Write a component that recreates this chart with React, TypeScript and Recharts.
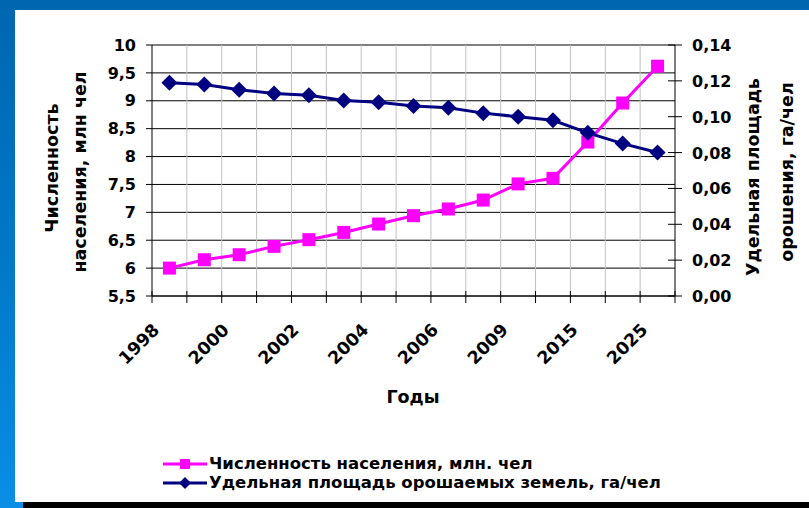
import React from "react";
import {
  LineChart,
  Line,
  XAxis,
  YAxis,
  CartesianGrid,
  Legend,
  Label,
} from "recharts";

// годы (подписи показываются через одну)
const years = [
  "1998", "1999", "2000", "2001", "2002", "2003", "2004", "2005",
  "2006", "2007", "2009", "2010", "2015", "2020", "2025",
];
const shownYears = ["1998", "2000", "2002", "2004", "2006", "2009", "2015", "2025"];

// численность населения, млн чел
const population = [6.0, 6.15, 6.24, 6.39, 6.51, 6.64, 6.79, 6.94, 7.06, 7.22, 7.51, 7.61, 8.26, 8.96, 9.62];
// удельная площадь орошаемых земель, га/чел
const irrigation = [0.119, 0.118, 0.115, 0.113, 0.112, 0.109, 0.108, 0.106, 0.105, 0.102, 0.1, 0.098, 0.091, 0.085, 0.08];

const leftTicks = [5.5, 6, 6.5, 7, 7.5, 8, 8.5, 9, 9.5, 10];
const rightTicks = [0, 0.02, 0.04, 0.06, 0.08, 0.1, 0.12, 0.14];

const popName = "Численность населения, млн. чел";
const irrName = "Удельная площадь орошаемых земель, га/чел";

const W = 809;
const H = 508;
const FONT = "'DejaVu Sans', sans-serif";
const PINK = "#ff00ff";
const NAVY = "#000080";
const margin = { top: 45, right: 74, bottom: 152, left: 92 };
const AXIS_W = 60;
const PLOT_W = W - margin.left - margin.right - 2 * AXIS_W;

const data = years.map((y, i) => ({
  year: y,
  pop: population[i],
  irr: irrigation[i],
}));

function Square(props: any) {
  const { cx, cy } = props;
  if (cx == null || cy == null) return null;
  return <rect x={cx - 6.5} y={cy - 6.5} width={13} height={13} fill={PINK} />;
}

function Diamond(props: any) {
  const { cx, cy } = props;
  if (cx == null || cy == null) return null;
  const r = 8;
  return (
    <polygon
      points={`${cx},${cy - r} ${cx + r},${cy} ${cx},${cy + r} ${cx - r},${cy}`}
      fill={NAVY}
    />
  );
}

function XTick(props: any) {
  const { x, y, payload, index } = props;
  const bw = PLOT_W / years.length;
  const tx = x - 9;
  const ty = y + 35;
  return (
    <g>
      <line x1={x - bw / 2} x2={x - bw / 2} y1={y - 5} y2={y + 7} stroke="#000" />
      {index === years.length - 1 && (
        <line x1={x + bw / 2} x2={x + bw / 2} y1={y - 5} y2={y + 7} stroke="#000" />
      )}
      {shownYears.includes(payload.value) && (
        <text
          x={tx}
          y={ty}
          transform={`rotate(-45 ${tx} ${ty})`}
          textAnchor="end"
          fontSize={17.5}
          fontWeight={700}
          fontFamily={FONT}
          fill="#000"
        >
          {payload.value}
        </text>
      )}
    </g>
  );
}

function RightTick(props: any) {
  const { x, y, payload } = props;
  return (
    <g>
      <line x1={x - 7} x2={x + 7} y1={y} y2={y} stroke="#000" />
      <text
        x={x + 17}
        y={y}
        dy={6}
        textAnchor="start"
        fontSize={16}
        fontWeight={700}
        fontFamily={FONT}
        fill="#000"
      >
        {payload.value.toFixed(2).replace(".", ",")}
      </text>
    </g>
  );
}

function LegendBox() {
  const row = (color: string, label: string, marker: "sq" | "dm") => (
    <div style={{ display: "flex", alignItems: "center", height: 19 }}>
      <svg width={46} height={19}>
        <line x1={0} x2={44} y1={10} y2={10} stroke={color} strokeWidth={3} />
        {marker === "sq" ? (
          <rect x={17} y={5} width={10} height={10} fill={color} />
        ) : (
          <polygon points="22,4 28,10 22,16 16,10" fill={color} />
        )}
      </svg>
      <span
        style={{
          fontFamily: FONT,
          fontWeight: 700,
          fontSize: 16.5,
          color: "#000",
          whiteSpace: "nowrap",
        }}
      >
        {label}
      </span>
    </div>
  );
  return (
    <div>
      {row(PINK, popName, "sq")}
      {row(NAVY, irrName, "dm")}
    </div>
  );
}

function LeftTitle() {
  return (
    <g fontFamily={FONT} fontWeight={700} fontSize={17.5} fill="#000">
      <text x={58} y={168} textAnchor="middle" transform="rotate(-90 58 168)">
        Численность
      </text>
      <text x={86} y={172} textAnchor="middle" transform="rotate(-90 86 172)">
        населения, млн чел
      </text>
    </g>
  );
}

function RightTitle() {
  return (
    <g fontFamily={FONT} fontWeight={700} fontSize={17.5} fill="#000">
      <text x={759} y={177} textAnchor="middle" transform="rotate(-90 759 177)">
        Удельная площадь
      </text>
      <text x={793} y={172} textAnchor="middle" transform="rotate(-90 793 172)">
        орошения, га/чел
      </text>
    </g>
  );
}

export default function App() {
  return (
    <div
      style={{
        position: "absolute",
        left: 0,
        top: 0,
        width: W,
        height: H,
        background: "linear-gradient(180deg, #0066b0 0%, #0078c8 50%, #0a8ee6 100%)",
        overflow: "hidden",
      }}
    >
      <div
        style={{
          position: "absolute",
          left: 15,
          top: 10,
          width: W - 15,
          height: 492,
          background: "#fff",
        }}
      />
      <div
        style={{
          position: "absolute",
          left: 23,
          top: 502,
          width: W - 23,
          height: 6,
          background: "#000",
        }}
      />
      <div style={{ position: "absolute", left: 0, top: 0 }}>
        <LineChart width={W} height={H} data={data} margin={margin}>
          <CartesianGrid
            yAxisId="left"
            vertical={false}
            stroke="#000"
            strokeWidth={1}
          />
          <CartesianGrid
            yAxisId="left"
            horizontal={false}
            stroke="#c0c0c0"
            strokeWidth={1}
            verticalCoordinatesGenerator={(p: any) => {
              const left = p?.offset?.left ?? margin.left + AXIS_W;
              const width = p?.offset?.width ?? PLOT_W;
              const bw = width / years.length;
              return years.slice(1).map((_, i) => left + bw * (i + 1));
            }}
          />
          <XAxis
            dataKey="year"
            scale="band"
            interval={0}
            tickLine={false}
            tickSize={0}
            tickMargin={0}
            height={60}
            axisLine={{ stroke: "#000" }}
            tick={<XTick />}
          >
            <Label
              content={() => (
                <text
                  x={413}
                  y={403}
                  textAnchor="middle"
                  fontFamily={FONT}
                  fontWeight={700}
                  fontSize={17.5}
                  fill="#000"
                >
                  Годы
                </text>
              )}
            />
          </XAxis>
          <YAxis
            yAxisId="left"
            width={AXIS_W}
            domain={[5.5, 10]}
            ticks={leftTicks}
            allowDataOverflow
            tickSize={6}
            tickMargin={10}
            axisLine={{ stroke: "#000" }}
            tickLine={{ stroke: "#000" }}
            tickFormatter={(v: number) => String(v).replace(".", ",")}
            tick={{ fontSize: 16, fontWeight: 700, fill: "#000", fontFamily: FONT }}
          >
            <Label content={() => <LeftTitle />} />
          </YAxis>
          <YAxis
            yAxisId="right"
            orientation="right"
            width={AXIS_W}
            domain={[0, 0.14]}
            ticks={rightTicks}
            allowDataOverflow
            tickLine={false}
            tickSize={0}
            tickMargin={0}
            axisLine={{ stroke: "#000" }}
            tick={<RightTick />}
          >
            <Label content={() => <RightTitle />} />
          </YAxis>
          <Legend
            layout="vertical"
            align="center"
            verticalAlign="middle"
            wrapperStyle={{ left: 163, top: 454, width: 580, height: 40 }}
            content={() => <LegendBox />}
          />
          <Line
            yAxisId="left"
            dataKey="pop"
            name={popName}
            stroke={PINK}
            strokeWidth={3}
            dot={<Square />}
            isAnimationActive={false}
          />
          <Line
            yAxisId="right"
            dataKey="irr"
            name={irrName}
            stroke={NAVY}
            strokeWidth={3}
            dot={<Diamond />}
            isAnimationActive={false}
          />
        </LineChart>
      </div>
    </div>
  );
}
